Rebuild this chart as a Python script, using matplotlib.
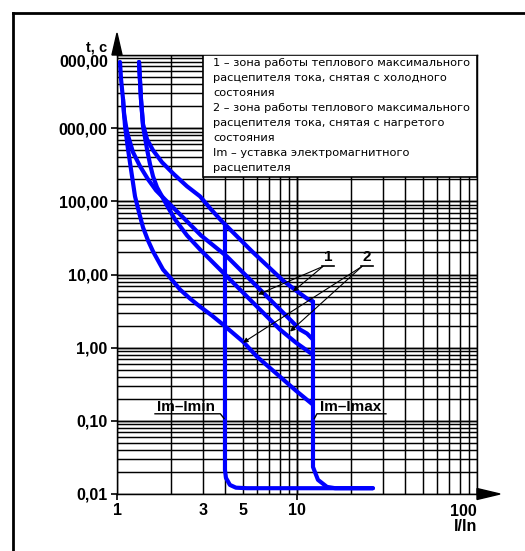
import numpy as np
import matplotlib
matplotlib.use("Agg")
import matplotlib.pyplot as plt
from matplotlib.patches import Rectangle, Polygon
from matplotlib.lines import Line2D
import matplotlib.transforms as mtrans

# ---------------- data ----------------
# zone 2 (hot) lower bound
curve_a_x = [1.039, 1.053, 1.080, 1.108, 1.151, 1.212, 1.259, 1.325, 1.395, 1.487, 1.585, 1.801,
             1.970, 2.239, 2.544, 2.892, 3.373, 3.880, 5.012, 5.995, 8.045, 9.873, 12.27]
curve_a_y = [8020, 4691, 2496, 1065, 516, 220, 117, 70.7, 44, 29.2, 20.7, 11.7,
             9.1, 6.23, 4.69, 3.64, 2.74, 2.07, 1.21, 0.753, 0.401, 0.258, 0.166]
# zone 1 (cold) lower bound
curve_b_x = [1.080, 1.094, 1.137, 1.227, 1.342, 1.487, 1.647, 1.848, 2.297, 2.929, 4.084,
             5.696, 8.045, 10.39, 11.36, 12.27]
curve_b_y = [2496, 1555, 881, 469, 302, 200, 141.5, 106, 62.3, 34.2, 17.6,
             7.77, 3.32, 1.77, 1.56, 1.29]
# zone 2 (hot) upper bound
curve_c_x = [1.325, 1.359, 1.395, 1.468, 1.526, 1.585, 1.668, 1.778, 1.920, 2.100, 2.448,
             2.892, 3.415, 4.084, 5.696, 8.045, 9.873, 11.81, 12.27]
curve_c_y = [8020, 2496, 1065, 516, 321, 220, 155.5, 117, 82.8, 56.7, 34.2,
             22, 14.6, 9.4, 4.13, 1.77, 1.17, 0.855, 0.80]
# zone 1 (cold) upper bound
curve_d_x = [1.325, 1.359, 1.395, 1.468, 1.585, 1.778, 2.073, 2.448, 2.892, 3.330, 3.831,
             4.642, 5.623, 6.899, 8.358, 9.873, 11.36, 12.27]
curve_d_y = [8020, 2496, 1135, 706, 499, 342, 234, 160.6, 117, 77.7, 53.2,
             33.2, 20.7, 12.9, 8.28, 6.04, 4.69, 4.27]
# electromagnetic release limits
imin_x = [3.98, 3.98, 4.03, 4.24, 4.58, 5.27, 26.4]
imin_y = [48.4, 0.0213, 0.0166, 0.0133, 0.0122, 0.012, 0.012]
imax_x = [12.27, 12.27, 13.08, 14.68, 16.3, 26.4]
imax_y = [4.27, 0.0234, 0.0156, 0.0125, 0.012, 0.012]

y_tick_values = [0.01, 0.1, 1, 10, 100, 1000]
y_tick_labels = ["0,01", "0,10", "1,00", "10,00", "100,00", "000,00"]
y_top_label = "000,00"
x_major_values = [1, 10]
x_major_labels = ["1", "10"]
x_minor_values = [3, 5]
x_minor_labels = ["3", "5"]
x_end_label = "100"
x_axis_name = "I/In"
y_axis_name = "t, с"

legend_lines = [
    "1 – зона работы теплового максимального",
    "расцепителя тока, снятая с холодного",
    "состояния",
    "2 – зона работы теплового максимального",
    "расцепителя тока, снятая с нагретого",
    "состояния",
    "Im – уставка электромагнитного",
    "расцепителя",
]

# ---------------- figure ----------------
W, H = 525, 551
fig = plt.figure(figsize=(W / 100, H / 100), dpi=100)
ax = fig.add_axes([117 / W, 57 / H, 360 / W, 439 / H])
ax.set_xscale("log")
ax.set_yscale("log")
ax.set_xlim(1, 100)
ax.set_ylim(0.01, 10000)

# grid (log decades with 2..9 subdivisions)
for dec in [1, 10]:
    for k in range(1, 11):
        ax.axvline(dec * k, color="black", lw=1.05, zorder=1)
for dec in [0.01, 0.1, 1, 10, 100, 1000]:
    for k in range(1, 11):
        ax.axhline(dec * k, color="black", lw=1.05, zorder=1)

for sp in ax.spines.values():
    sp.set_color("black")
    sp.set_linewidth(1.05)

bold = dict(family=["Liberation Sans", "DejaVu Sans"], weight="bold")

ax.set_yticks(y_tick_values)
ax.set_yticklabels(y_tick_labels, fontsize=11.5, **bold)
ax.yaxis.set_minor_locator(matplotlib.ticker.NullLocator())
ax.tick_params(axis="y", which="major", length=4.5, width=1.2, pad=2.2, direction="out")

ax.set_xticks(x_major_values)
ax.set_xticklabels(x_major_labels, fontsize=11.5, **bold)
ax.set_xticks(x_minor_values, minor=True)
ax.set_xticklabels(x_minor_labels, minor=True, fontsize=11.5, **bold)
ax.tick_params(axis="x", which="major", length=4.5, width=1.2, pad=1.8, direction="out")
ax.tick_params(axis="x", which="minor", length=0, pad=6.3)

# top y label & axis names
ax.text(-0.025, 0.985, y_top_label, transform=ax.transAxes, ha="right", va="center",
        fontsize=11.5, **bold)
ax.text(-0.028, 1.0, y_axis_name, transform=ax.transAxes, ha="right", va="bottom",
        fontsize=10.5, **bold)
bt = mtrans.blended_transform_factory(ax.transData, ax.transAxes)
ax.text(100, -0.022, x_end_label, transform=bt, ha="right", va="top", fontsize=11.5, **bold)
ax.text(100, -0.058, x_axis_name, transform=bt, ha="right", va="top", fontsize=11.5, **bold)

# axis arrows
ax.add_patch(Polygon([[-0.014, 1.0], [0.014, 1.0], [0.0, 1.05]], closed=True,
                     transform=ax.transAxes, color="black", clip_on=False, zorder=6))
ax.add_patch(Polygon([[1.0, -0.0125], [1.0, 0.0125], [1.064, 0.0]], closed=True,
                     transform=ax.transAxes, color="black", clip_on=False, zorder=6))

# legend box
box_y0 = 213
ax.add_patch(Rectangle((3, box_y0), 100 - 3, 10000 - box_y0, facecolor="white",
                       edgecolor="black", lw=1.2, zorder=3))
for i, line in enumerate(legend_lines):
    ax.text(0.2667, 0.9818 - i * 0.0342, line, transform=ax.transAxes, ha="left",
            va="center", fontsize=8.2, family=["DejaVu Sans"], zorder=4)

# curves
style = dict(color="#0000ff", lw=3.0, solid_capstyle="round", solid_joinstyle="round", zorder=5)
for xs, ys in [(curve_a_x, curve_a_y), (curve_b_x, curve_b_y), (curve_c_x, curve_c_y),
               (curve_d_x, curve_d_y), (imin_x, imin_y), (imax_x, imax_y)]:
    ax.plot(xs, ys, **style)

# leader annotations
arr = dict(arrowstyle="-|>", color="black", lw=0.8, mutation_scale=7, shrinkA=0, shrinkB=0)
for (sx, sy), (tx, ty) in [((13.95, 12.9), (6.07, 5.32)), ((13.95, 12.9), (9.50, 5.85)),
                           ((22.97, 12.9), (5.01, 1.17)), ((22.97, 12.9), (9.15, 1.66))]:
    ax.annotate("", xy=(tx, ty), xytext=(sx, sy), arrowprops=arr, zorder=6)
ax.text(14.87, 17.1, "1", ha="center", va="center", fontsize=11, zorder=6, **bold)
ax.text(24.5, 17.1, "2", ha="center", va="center", fontsize=11, zorder=6, **bold)
ax.plot([13.8, 16.05], [12.9, 12.9], color="black", lw=1.2, zorder=6)
ax.plot([22.6, 26.5], [12.9, 12.9], color="black", lw=1.2, zorder=6)

ax.text(1.67, 0.137, "Im–Imin", ha="left", va="baseline", fontsize=11, zorder=6, **bold)
ax.plot([1.626, 3.75, 3.93], [0.1248, 0.1248, 0.108], color="black", lw=1.0, zorder=6)
ax.text(13.42, 0.137, "Im–Imax", ha="left", va="baseline", fontsize=11, zorder=6, **bold)
ax.plot([12.5, 12.9, 31.2], [0.108, 0.1248, 0.1248], color="black", lw=1.0, zorder=6)

# outer frame (top and left edges)
fig.add_artist(Line2D([13 / W, 1.0], [1 - 13 / H, 1 - 13 / H], transform=fig.transFigure,
                      color="black", lw=2.0))
fig.add_artist(Line2D([13 / W, 13 / W], [0.0, 1 - 13 / H], transform=fig.transFigure,
                      color="black", lw=2.0))

fig.savefig("out.png", dpi=100)
